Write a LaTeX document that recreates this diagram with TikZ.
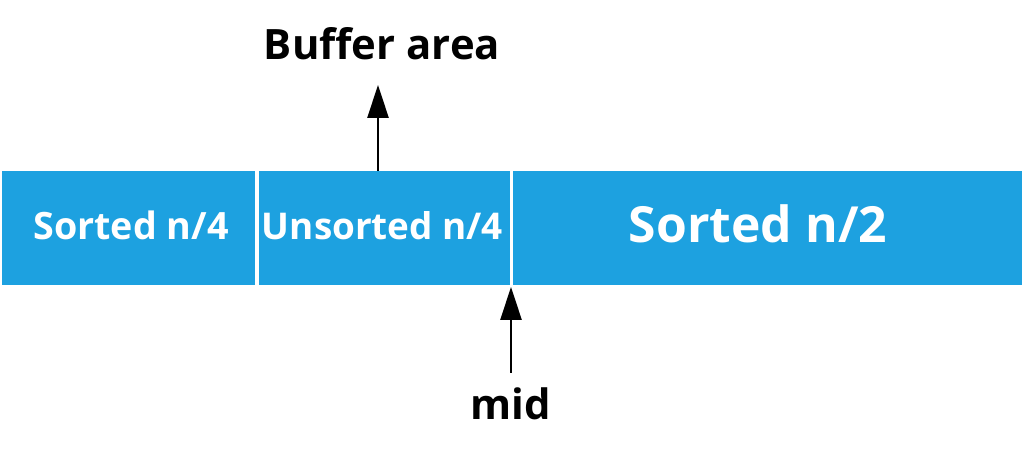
\documentclass[tikz,border=0pt]{standalone}
\usepackage{fontspec}
\setmainfont{Open Sans}
\usetikzlibrary{arrows.meta}
\definecolor{boxblue}{RGB}{29,161,224}
\begin{document}
\begin{tikzpicture}[x=1bp,y=1bp,
  cell/.style={fill=boxblue,draw=none,minimum height=114bp,inner sep=0pt,outer sep=0pt},
  celltext/.style={text=white,font=\bfseries\fontsize{#1}{#1}\selectfont,inner sep=0pt},
  lbl/.style={text=black,font=\bfseries\fontsize{42}{42}\selectfont,inner sep=0pt},
  arr/.style={line width=2.8bp,-{Triangle[length=33bp,width=21bp]}}]
\useasboundingbox (0,0) rectangle (1024,457);
\node[cell,minimum width=253bp] (box1) at (128.5,229) {};
\node[cell,minimum width=251bp] (box2) at (384.5,229) {};
\node[cell,minimum width=509bp] (box3) at (767.5,229) {};
\node[celltext=37.8,anchor=base] (t1) at (131,217) {Sorted n/4};
\node[celltext=37,anchor=base] (t2) at (382.5,217) {Unsorted n/4};
\node[celltext=50,anchor=base] (t3) at (758,214) {Sorted n/2};
\node[lbl,anchor=base] (buf) at (382,397) {Buffer area};
\node[lbl,anchor=base] (mid) at (511,37) {mid};
\coordinate (buftip) at (378,372);
\coordinate (midtail) at (511,84);
\coordinate (midtip) at (511,170);
\draw[arr] (box2.north -| buftip) -- (buftip);
\draw[arr] (midtail) -- (midtip);
\end{tikzpicture}
\end{document}
